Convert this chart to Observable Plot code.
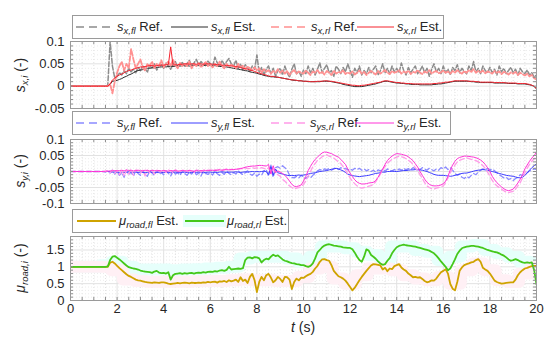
<!DOCTYPE html>
<html><head><meta charset="utf-8">
<script src="https://cdn.jsdelivr.net/npm/d3@7"></script>
<script src="https://cdn.jsdelivr.net/npm/@observablehq/plot@0.6"></script>
<style>
body{margin:0;background:#fff;}
#root{position:relative;width:550px;height:349px;font-family:"Liberation Sans",Arial,sans-serif;color:#262626;overflow:hidden;background:#fff}
.pl{position:absolute;left:0}
.leg{position:absolute;border:1px solid #9a9a9a;background:#fff;box-sizing:border-box;z-index:5}
.li{position:absolute;top:0}
.lt{position:absolute;top:4px;font-size:13px;white-space:nowrap;line-height:14px}
.it{font-style:italic}
sub{font-size:9.5px;font-style:italic;vertical-align:-3px;line-height:0}
.ylab{position:absolute;white-space:nowrap;font-size:14px;transform:translate(-50%,-50%) rotate(-90deg)}
.xlab{position:absolute;white-space:nowrap;font-size:14px;transform:translate(-50%,-50%)}
</style></head><body><div id="root"></div>
<script>
// ---------- data (sampled every 0.1 s, t = 0 .. 20) ----------
const dt = 0.1;
const sxflRef = [
0,0,0,0,0,0,0,0,0,0,
0,0,0,0,0,0,.002,.1,.045,.018,
.022,.03,.025,.035,.028,.04,.032,.038,.03,.042,
.035,.045,.038,.032,.046,.04,.05,.036,.044,.048,
.04,.052,.045,.038,.05,.055,.042,.048,.053,.044,
.05,.058,.045,.052,.06,.048,.055,.05,.046,.056,
.05,.045,.065,.052,.044,.058,.048,.055,.062,.05,
.045,.058,.04,.05,.036,.048,.042,.032,.045,.038,
.07,.03,.042,.025,.038,.045,.028,.04,.022,.035,
.04,.025,.045,.03,.02,.038,.05,.028,.034,.022,
.036,.028,.045,.03,.04,.025,.038,.052,.03,.04,
.048,.03,.035,.022,.045,.038,.028,.042,.032,.05,
.035,.02,.04,.03,.045,.025,.035,.028,.042,.03,
.038,.045,.025,.035,.05,.03,.04,.028,.045,.032,
.04,.03,.052,.035,.025,.042,.03,.038,.045,.028,
.035,.045,.03,.04,.022,.038,.05,.032,.04,.028,
.045,.03,.038,.025,.042,.035,.048,.03,.04,.033,
.028,.045,.035,.055,.032,.04,.028,.045,.035,.03,
.042,.03,.038,.025,.045,.032,.04,.028,.035,.042,
.03,.038,.025,.04,.032,.028,.036,.025,.03,.02,
.025];
const sxflEst = [
0,0,0,0,0,0,0,0,0,0,
0,0,0,0,0,0,0,.004,.011,.012,
.013,.015,.017,.02,.022,.025,.027,.03,.033,.035,
.036,.037,.038,.04,.04,.041,.041,.042,.043,.043,
.044,.043,.044,.045,.044,.045,.046,.045,.046,.046,
.046,.045,.046,.047,.046,.046,.047,.046,.047,.047,
.047,.046,.046,.045,.044,.044,.043,.043,.042,.041,
.04,.039,.038,.037,.036,.035,.034,.032,.031,.03,
.029,.027,.026,.024,.023,.022,.021,.021,.02,.02,
.019,.018,.017,.016,.015,.014,.013,.013,.012,.012,
.011,.011,.01,.01,.01,.01,.01,.01,.011,.011,
.011,.011,.01,.009,.008,.007,.006,.004,.003,.002,
.001,0,-.001,-.001,-.001,-.001,0,.001,.002,.003,
.004,.005,.007,.008,.01,.011,.011,.01,.009,.008,
.007,.007,.006,.006,.005,.005,.004,.004,.004,.004,
.003,.003,.003,.003,.003,.003,.004,.004,.005,.005,
.006,.007,.008,.009,.01,.011,.011,.011,.011,.011,
.011,.011,.01,.01,.009,.009,.008,.008,.008,.008,
.008,.008,.007,.007,.007,.007,.007,.007,.006,.006,
.006,.006,.005,.005,.005,.005,.004,.003,.002,-.001,
-.006];
const sxrlRef = [
0,0,0,0,0,0,0,0,0,0,
0,0,0,0,0,0,0,.005,-.016,.01,
.03,.045,.055,.035,.05,.04,.083,.06,.04,.05,
.06,.042,.035,.05,.045,.055,.04,.05,.045,.058,
.042,.05,.055,.045,.06,.048,.04,.052,.045,.05,
.045,.055,.04,.05,.045,.052,.042,.048,.055,.045,
.048,.042,.05,.045,.055,.046,.04,.05,.044,.048,
.045,.04,.05,.042,.046,.038,.044,.04,.036,.042,
.035,.04,.03,.038,.032,.036,.028,.034,.03,.038,
.03,.035,.028,.034,.025,.032,.036,.028,.033,.03,
.028,.035,.03,.025,.033,.03,.036,.028,.032,.026,
.034,.03,.025,.035,.028,.032,.03,.036,.027,.031,
.028,.033,.026,.03,.035,.028,.032,.025,.03,.034,
.03,.026,.034,.028,.032,.036,.03,.027,.034,.03,
.032,.036,.028,.033,.03,.035,.027,.032,.03,.036,
.03,.027,.033,.03,.036,.028,.032,.034,.029,.031,
.035,.03,.033,.028,.034,.03,.036,.031,.028,.034,
.03,.036,.032,.038,.03,.034,.031,.035,.029,.033,
.031,.028,.034,.03,.033,.027,.032,.03,.026,.031,
.028,.032,.025,.03,.027,.024,.028,.022,.025,.018,
.015];
const sxrlEst = [
0,0,0,0,0,0,0,0,0,0,
0,0,0,0,0,0,0,.005,.014,.018,
.022,.025,.027,.03,.033,.035,.036,.038,.04,.041,
.043,.043,.044,.045,.046,.046,.045,.046,.047,.047,
.047,.048,.048,.088,.047,.048,.048,.049,.049,.05,
.05,.049,.05,.05,.049,.05,.05,.049,.05,.05,
.05,.049,.049,.048,.048,.047,.047,.046,.046,.045,
.045,.044,.043,.042,.04,.039,.038,.036,.035,.033,
.031,.029,.028,.026,.025,.023,.022,.022,.021,.02,
.019,.018,.017,.016,.015,.014,.014,.013,.012,.012,
.011,.011,.011,.01,.01,.01,.011,.011,.011,.012,
.012,.011,.011,.01,.009,.008,.007,.006,.005,.004,
.003,.002,.002,.001,.001,.002,.002,.003,.004,.005,
.006,.007,.008,.009,.011,.012,.012,.011,.01,.009,
.008,.008,.007,.007,.006,.006,.006,.005,.005,.005,
.005,.005,.005,.005,.005,.005,.006,.006,.007,.007,
.008,.009,.009,.01,.011,.012,.012,.012,.012,.012,
.012,.011,.011,.011,.01,.01,.009,.009,.009,.009,
.009,.009,.008,.008,.008,.008,.008,.007,.007,.007,
.007,.007,.006,.006,.006,.006,.005,.004,.002,0,
-.006];
const syflRef = [
0,0,0,0,0,0,0,0,0,0,
0,0,0,0,0,-.002,.003,-.005,.004,-.008,
.002,-.012,-.004,-.018,.003,-.01,-.002,-.015,.004,-.006,
-.012,.002,-.008,-.015,.003,-.005,-.012,.002,-.008,-.004,
-.01,.002,-.006,-.014,.001,-.008,-.004,-.012,.002,-.006,
-.012,-.002,-.008,.001,-.01,-.005,-.014,.002,-.006,-.009,
-.004,-.011,.001,-.007,-.012,-.003,-.009,.002,-.006,-.01,
-.003,-.008,.002,-.005,-.01,-.004,.002,-.008,-.012,-.005,
-.015,-.008,-.012,.002,.006,-.015,.02,-.018,.012,.015,
.01,.018,.012,.005,-.012,-.018,-.02,-.015,-.02,-.012,
-.018,-.022,-.015,-.02,-.012,-.006,.002,.006,.004,.008,
.006,.01,.004,.009,.012,.006,.012,.008,.01,.005,
.008,.004,.01,.006,.01,.004,.008,.002,.006,0,
.004,-.002,.005,.002,.006,.001,.008,.004,.002,.006,
.003,.008,.004,.01,.005,.009,.006,.012,.008,.01,
.006,.012,.008,.004,.01,.006,.002,.008,.004,.012,
.008,.014,.006,.012,.004,-.006,-.012,-.008,-.018,-.022,
-.015,-.02,-.012,-.006,-.01,-.002,.004,.008,.006,.01,
.005,.008,.002,-.004,-.01,-.015,-.02,-.018,-.025,-.022,
-.028,-.022,-.018,-.01,-.012,-.008,-.004,.002,.004,.008,
.006];
const syflEst = [
0,0,0,0,0,0,0,0,0,0,
0,0,0,0,0,0,0,-.001,-.002,-.002,
-.002,-.003,-.002,-.003,-.002,-.001,-.002,-.003,-.002,-.003,
-.002,-.003,-.004,-.003,-.002,-.003,-.004,-.003,-.002,-.003,
-.003,-.002,-.003,-.004,-.003,-.002,-.003,-.004,-.003,-.002,
-.003,-.004,-.003,-.002,-.003,-.002,-.003,-.004,-.003,-.002,
-.002,-.003,-.002,-.003,-.002,-.001,-.002,-.003,-.002,-.002,
-.002,-.001,-.002,-.003,-.002,-.001,-.002,-.001,0,-.001,
0,-.001,0,.001,0,-.01,.015,-.012,.008,-.004,
-.006,-.008,-.01,-.012,-.013,-.012,-.013,-.012,-.011,-.012,
-.011,-.01,-.008,-.006,-.005,-.004,-.002,0,.001,.002,
.003,.005,.007,.008,.01,.008,.005,.002,-.003,-.008,
-.011,-.013,-.014,-.015,-.016,-.015,-.014,-.013,-.012,-.01,
-.008,-.006,-.005,-.004,-.002,-.002,0,0,.001,0,
0,.001,.002,.003,.003,.004,.005,.005,.006,.005,
.005,.004,.002,0,-.003,-.006,-.009,-.011,-.012,-.012,
-.012,-.013,-.014,-.015,-.014,-.012,-.01,-.008,-.006,-.005,
-.005,-.003,-.001,.001,.003,.004,.005,.006,.005,.004,
.002,0,-.002,-.004,-.006,-.008,-.01,-.012,-.013,-.014,
-.015,-.017,-.019,-.02,-.018,-.012,-.005,.004,.012,.018,
.024];
const syrlRef = [
0,0,0,0,0,0,0,0,0,0,
0,0,0,0,0,0,.002,-.004,.005,-.006,
.003,-.01,.006,-.015,.004,-.008,.007,-.012,.005,.002,
-.006,.004,-.014,.005,-.004,.003,-.008,.004,.002,-.003,
.004,-.003,.005,.002,-.004,.006,.001,-.002,.004,.003,
-.003,.004,.002,-.004,.005,.003,-.002,.004,.006,.002,
.005,.003,.006,.004,.007,.003,.006,.008,.005,.007,
.006,.008,.007,.01,.008,.011,.009,.01,.012,.01,
.011,.009,.012,.01,.006,.012,0,.008,-.005,-.01,
-.015,-.025,-.03,-.038,-.045,-.05,-.055,-.052,-.05,-.048,
-.04,-.03,-.015,0,.015,.025,.035,.04,.046,.05,
.052,.048,.045,.042,.036,.03,.025,.015,.005,-.008,
-.02,-.03,-.038,-.045,-.05,-.052,-.05,-.048,-.046,-.044,
-.04,-.032,-.02,-.008,.005,.015,.025,.032,.038,.042,
.045,.048,.046,.044,.04,.035,.03,.022,.012,.002,
-.01,-.022,-.035,-.045,-.05,-.054,-.055,-.052,-.05,-.048,
-.045,-.035,-.02,-.005,.01,.02,.03,.035,.038,.04,
.042,.04,.038,.036,.034,.03,.025,.018,.01,-.002,
-.015,-.028,-.038,-.045,-.05,-.055,-.06,-.065,-.066,-.064,
-.062,-.055,-.045,-.035,-.02,-.005,.01,.022,.032,.04,
.045];
const syrlEst = [
0,0,0,0,0,0,0,0,0,0,
0,0,0,0,0,.001,.001,.002,.002,.003,
.002,.003,.004,.002,.005,.003,.004,.002,.003,.004,
.003,.002,.004,.003,.002,.004,.003,.002,.003,.002,
.003,.002,.001,.003,.002,.003,.001,.002,.003,.002,
.002,.003,.002,.001,.003,.002,.003,.002,.003,.004,
.003,.004,.003,.004,.005,.004,.005,.006,.005,.006,
.006,.007,.008,.009,.011,.013,.015,.016,.017,.017,
.018,.019,.019,.018,.017,.022,-.008,.018,-.004,.002,
-.002,-.006,-.012,-.02,-.03,-.04,-.046,-.047,-.045,-.042,
-.03,-.015,.003,.016,.028,.038,.045,.052,.058,.061,
.06,.058,.056,.052,.048,.045,.038,.03,.022,.008,
-.005,-.016,-.026,-.033,-.037,-.039,-.039,-.038,-.036,-.035,
-.034,-.028,-.018,-.005,.008,.022,.034,.042,.048,.053,
.056,.055,.054,.052,.05,.046,.04,.034,.024,.014,
0,-.012,-.024,-.034,-.04,-.044,-.045,-.045,-.044,-.042,
-.038,-.03,-.015,.005,.02,.032,.04,.044,.046,.048,
.048,.047,.046,.045,.043,.04,.036,.03,.022,.012,
0,-.015,-.026,-.035,-.042,-.048,-.054,-.058,-.06,-.058,
-.055,-.046,-.036,-.024,-.01,.008,.02,.032,.042,.05,
.06];
const muflEst = [
1,1,1,1,1,1,1,1,1,1,
1,1,1,1,1,1,1,1.12,1.15,1.1,
1.03,.96,.9,.84,.78,.73,.7,.66,.62,.6,
.59,.57,.55,.54,.53,.52,.54,.53,.52,.54,
.54,.52,.5,.49,.5,.51,.52,.51,.52,.53,
.52,.51,.53,.52,.52,.53,.52,.54,.53,.55,
.54,.55,.56,.53,.57,.56,.58,.55,.6,.57,
.59,.62,.55,.69,.58,.62,.52,.7,.79,.6,
.25,.55,.7,.6,.75,.79,.68,.54,.6,.7,
.64,.55,.7,.69,.62,.34,.55,.65,.6,.68,
.67,.72,.76,.79,.85,.95,1.03,1.15,1.22,1.23,
1.2,1.18,1.05,.88,.8,.72,.69,.65,.59,.5,
.4,.3,.38,.49,.6,.7,.79,.88,.96,1.04,
1.08,1.07,1.06,1.04,.92,.97,.87,.95,.93,1.02,
1.05,1.08,.98,.92,.88,.8,.75,.69,.7,.68,
.69,.64,.58,.54,.56,.6,.59,.65,.75,.84,
.88,.93,.8,.49,.35,.3,.55,.88,.98,1.05,
1.08,1.1,1.13,1.15,1.2,1.23,1.15,.97,.92,.88,
.8,.7,.59,.55,.52,.5,.51,.52,.53,.54,
.54,.62,.75,.84,.9,.95,.97,1,1.02,1.03,
1.03];
const murlEst = [
1,1,1,1,1,1,1,1,1,1,
1,1,1,1,1,1,1.01,1.2,1.3,1.32,
1.27,1.22,1.16,1.1,1.04,.99,.97,.95,.94,.92,
.89,.87,.86,.85,.84,.82,.86,.88,.83,.81,
.82,.8,.84,.62,.75,.79,.8,.81,.79,.81,
.8,.81,.82,.8,.82,.83,.82,.84,.83,.85,
.86,.85,.87,.86,.89,.9,.88,.91,1,.92,
.93,.94,.95,.94,.96,1.2,1.27,1.28,1.25,1.29,
1.28,1.25,1.13,1.2,1.24,1.22,1.3,1.36,1.32,1.34,
1.28,1.22,1.18,1.16,1.13,1.11,1.1,1.08,1.07,1.05,
1.05,1.02,1,1.03,1.1,1.25,1.43,1.5,1.58,1.63,
1.66,1.67,1.65,1.63,1.62,1.61,1.6,1.58,1.57,1.56,
1.56,1.52,1.42,1.3,1.2,1.15,1.3,1.52,1.48,1.35,
1.3,1.24,1.16,1.1,1.06,1.08,1.18,1.26,1.4,1.5,
1.58,1.62,1.64,1.66,1.64,1.63,1.62,1.61,1.6,1.58,
1.56,1.54,1.52,1.5,1.48,1.44,1.4,1.33,1.25,1.16,
1.08,1,.9,.95,1.08,1.22,1.38,1.48,1.55,1.58,
1.6,1.61,1.62,1.62,1.61,1.6,1.58,1.56,1.53,1.5,
1.48,1.46,1.44,1.43,1.4,1.36,1.33,1.28,1.22,1.18,
1.2,1.23,1.2,1.16,1.13,1.12,1.13,1.12,1.13,.9,
.48];
// faint reference bands for road friction (every 0.5 s)
const bandDt = 0.5;
const muflRef = [1,1,1,1,.9,.62,.58,.56,.56,.56,.56,.57,.58,.58,.6,.62,.6,.6,.58,.58,.7,.95,1,.65,.5,.75,.95,.95,.9,.75,.65,.6,.7,.5,.9,1.1,.9,.6,.55,.8,1];
const murlRef = [1,1,1,1.05,1.15,1,.92,.92,.92,.9,.92,.93,.95,.97,1,1.25,1.3,1.3,1.3,1.25,1.15,1.3,1.6,1.6,1.55,1.45,1.35,1.25,1.6,1.6,1.5,1.45,1.2,1.3,1.6,1.65,1.5,1.4,1.3,1.15,1.1];

const xTicks = [0,2,4,6,8,10,12,14,16,18,20];
const yTicks1 = [-0.05,0,0.05,0.1];
const yTicks2 = [-0.1,-0.05,0,0.05,0.1];
const yTicks3 = [0,0.5,1,1.5];

// ---------- helpers ----------
const rows = (arr, step) => arr.map((v, i) => ({t: +(i * step).toFixed(3), v}));
const root = document.getElementById("root");
const ML = 70, MR = 14, MT = 8;
const FW = 550 - ML - MR;
const fmt = d => d === 0 ? "0" : String(d);

function minorOf(domain, step, majors) {
  const out = [];
  const n = Math.round((domain[1] - domain[0]) / step);
  for (let i = 0; i <= n; i++) {
    const v = +(domain[0] + i * step).toFixed(4);
    if (!majors.some(m => Math.abs(m - v) < 1e-6)) out.push(v);
  }
  return out;
}

function panel({top, frameH, mb, yDomain, yTicks, yStep, xLabels, layers}) {
  const xMinor = minorOf([0, 20], 0.5, xTicks);
  const yMinor = minorOf(yDomain, yStep, yTicks);
  const xAll = minorOf([0, 20], 0.5, []);
  const yAll = minorOf(yDomain, yStep, []);
  const tk = "#8a8a8a";
  const marks = [
    Plot.gridX(xMinor, {stroke: "#e0e0e0", strokeOpacity: 1, strokeDasharray: "1,2"}),
    Plot.gridY(yMinor, {stroke: "#ececec", strokeOpacity: 1, strokeDasharray: "1,2"}),
    Plot.gridX(xTicks, {stroke: "#e2e2e2", strokeOpacity: 1}),
    Plot.gridY(yTicks, {stroke: "#e2e2e2", strokeOpacity: 1}),
    ...layers,
    Plot.tickX(xAll, {insetTop: frameH - 3, stroke: tk}),
    Plot.tickX(xAll, {insetBottom: frameH - 3, stroke: tk}),
    Plot.tickY(yAll, {insetRight: FW - 3, stroke: tk}),
    Plot.tickY(yAll, {insetLeft: FW - 3, stroke: tk}),
    Plot.frame({stroke: "#9a9a9a"}),
    Plot.axisY(yTicks, {anchor: "left", tickSize: 0, tickPadding: 6, tickFormat: fmt, fontSize: 13, label: null, fill: "#262626"})
  ];
  if (xLabels) marks.push(Plot.axisX(xTicks, {anchor: "bottom", tickSize: 0, tickPadding: 3, fontSize: 13, label: null, fill: "#262626"}));
  const svg = Plot.plot({
    width: 550, height: MT + frameH + mb,
    marginTop: MT, marginBottom: mb, marginLeft: ML, marginRight: MR,
    x: {domain: [0, 20], axis: null},
    y: {domain: yDomain, axis: null},
    style: {background: "transparent", overflow: "visible", fontFamily: "'Liberation Sans', Arial, sans-serif", color: "#262626"},
    marks
  });
  svg.classList.add("pl");
  svg.style.top = (top - MT) + "px";
  svg.style.position = "absolute";
  root.appendChild(svg);
}

const ln = (arr, color, w, dash) => Plot.line(rows(arr, dt), {x: "t", y: "v", stroke: color, strokeWidth: w, strokeDasharray: dash, clip: true});

const C = {
  gray: "#8c8c8c", black: "#2b2b2b", lred: "#ff9090", red: "#f5222d",
  lblue: "#8a8aff", blue: "#3c3cff", lpink: "#ff9be8", mag: "#ff33d6",
  gold: "#cfa300", green: "#44c81a", cyanBand: "#e6fffb", pinkBand: "#fff0f5"
};

panel({top: 41, frameH: 67, mb: 8, yDomain: [-0.05, 0.1], yTicks: yTicks1, yStep: 0.01, xLabels: false,
  layers: [
    ln(sxflRef, C.gray, 1.5, "5,2"),
    ln(sxflEst, C.black, 1),
    ln(sxrlRef, C.lred, 1.8, "5,2"),
    ln(sxrlEst, C.red, 1)
  ]});
panel({top: 139, frameH: 64, mb: 8, yDomain: [-0.1, 0.1], yTicks: yTicks2, yStep: 0.01, xLabels: false,
  layers: [
    ln(syflRef, C.lblue, 1.3, "5,3"),
    ln(syflEst, C.blue, 1),
    ln(syrlRef, C.lpink, 1.3, "5,3"),
    ln(syrlEst, C.mag, 1)
  ]});
panel({top: 236, frameH: 64, mb: 24, yDomain: [0, 1.9], yTicks: yTicks3, yStep: 0.1, xLabels: true,
  layers: [
    Plot.line(rows(murlRef, bandDt), {x: "t", y: "v", stroke: C.cyanBand, strokeWidth: 12, curve: "step", clip: true}),
    Plot.line(rows(muflRef, bandDt), {x: "t", y: "v", stroke: C.pinkBand, strokeWidth: 12, curve: "step", clip: true}),
    ln(muflEst, C.gold, 1.8),
    ln(murlEst, C.green, 1.8)
  ]});

// ---------- legends ----------
function legend({left, top, width, height, items}) {
  const d = document.createElement("div");
  d.className = "leg";
  Object.assign(d.style, {left: left + "px", top: top + "px", width: width + "px", height: height + "px"});
  let html = "";
  for (const it of items) {
    const len = it.x2 - it.x1;
    const cy = Math.round(height / 2) - 1;
    if (it.bg) html += `<div style="position:absolute;left:${it.x1 - 2}px;top:${cy - 6}px;width:${len + 4}px;height:12px;background:${it.bg}"></div>`;
    html += `<svg class="li" style="left:${it.x1}px" width="${len}" height="${height}"><line x1="0" x2="${len}" y1="${cy}" y2="${cy}" stroke="${it.color}" stroke-width="${it.w}" ${it.dash ? `stroke-dasharray="${it.dash}"` : ""}/></svg>`;
    html += `<span class="lt" style="left:${it.tx}px">${it.label}</span>`;
  }
  d.innerHTML = html;
  root.appendChild(d);
}
legend({left: 72, top: 15, width: 372, height: 24, items: [
  {x1: 3, x2: 42, tx: 44, color: C.gray, w: 1.5, dash: "8,5", label: `<span class="it">s</span><sub>x,fl</sub> Ref.`},
  {x1: 98, x2: 135, tx: 138, color: C.black, w: 1, label: `<span class="it">s</span><sub>x,fl</sub> Est.`},
  {x1: 198, x2: 235, tx: 238, color: C.lred, w: 1.5, dash: "8,5", label: `<span class="it">s</span><sub>x,rl</sub> Ref.`},
  {x1: 284, x2: 321, tx: 324, color: C.red, w: 1, label: `<span class="it">s</span><sub>x,rl</sub> Est.`}
]});
legend({left: 72, top: 111, width: 379, height: 24, items: [
  {x1: 3, x2: 42, tx: 44, color: C.lblue, w: 1.5, dash: "8,5", label: `<span class="it">s</span><sub>y,fl</sub> Ref.`},
  {x1: 98, x2: 135, tx: 138, color: C.blue, w: 1, label: `<span class="it">s</span><sub>y,fl</sub> Est.`},
  {x1: 198, x2: 235, tx: 237, color: C.lpink, w: 1.5, dash: "8,5", label: `<span class="it">s</span><sub>ys,rl</sub> Ref.`},
  {x1: 282, x2: 321, tx: 324, color: C.mag, w: 1, label: `<span class="it">s</span><sub>y,rl</sub> Est.`}
]});
legend({left: 72, top: 209, width: 217, height: 24, items: [
  {x1: 4, x2: 43, tx: 46, color: C.gold, w: 2, label: `<span class="it">μ</span><sub>road,fl</sub> Est.`},
  {x1: 112, x2: 151, tx: 154, color: C.green, w: 2, bg: C.cyanBand, label: `<span class="it">μ</span><sub>road,rl</sub> Est.`}
]});

// ---------- axis titles ----------
function addText(cls, x, y, html) {
  const d = document.createElement("div");
  d.className = cls;
  d.style.left = x + "px"; d.style.top = y + "px";
  d.innerHTML = html;
  root.appendChild(d);
}
addText("ylab", 20, 75, `<span class="it">s</span><sub>x,i</sub> (-)`);
addText("ylab", 20, 171, `<span class="it">s</span><sub>y,i</sub> (-)`);
addText("ylab", 20, 268, `<span class="it">μ</span><sub>road,i</sub> (-)`);
addText("xlab", 303, 327, `<span class="it">t</span> (s)`);
</script></body></html>
